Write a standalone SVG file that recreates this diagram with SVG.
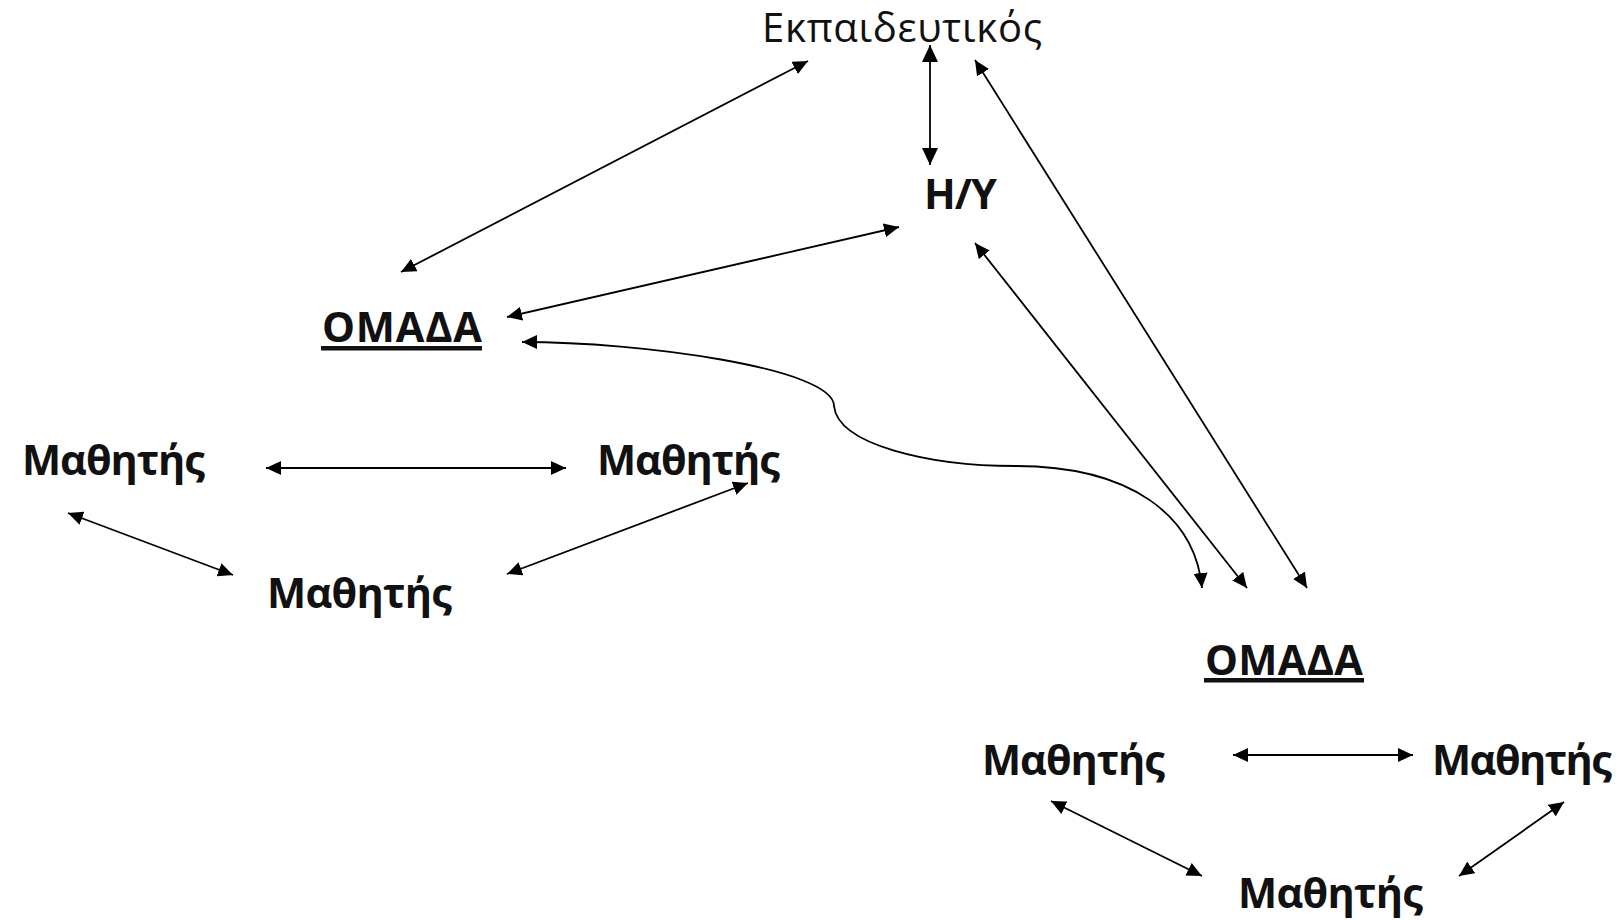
<svg xmlns="http://www.w3.org/2000/svg" width="1620" height="920" viewBox="0 0 1620 920">
  <defs>
    <marker id="ah" markerUnits="userSpaceOnUse" markerWidth="15" markerHeight="14" viewBox="0 0 15 14" refX="15" refY="7" orient="auto-start-reverse">
      <path d="M0,0 L15,7 L0,14 z" fill="#000"/>
    </marker>
    <marker id="ahL" markerUnits="userSpaceOnUse" markerWidth="17" markerHeight="16" viewBox="0 0 17 16" refX="17" refY="8" orient="auto-start-reverse">
      <path d="M0,0 L17,8 L0,16 z" fill="#000"/>
    </marker>
    <style>
      .lbl { font-family: "Open Sans", "Noto Sans", "DejaVu Sans", sans-serif; fill: #111; }
      .b { font-weight: 700; font-size: 41.5px; }
      .r { font-weight: 400; font-size: 40px; }
      .ul { fill: #111; }
      .cn { fill: none; stroke: #000; stroke-width: 1.8; marker-start: url(#ah); marker-end: url(#ah); }
      .cn.big { marker-start: url(#ahL); marker-end: url(#ahL); }
    </style>
  </defs>
  <rect width="1620" height="920" fill="#fff"/>

  <!-- nodes -->
  <g id="teacher"><text class="lbl r" x="762" y="42" textLength="280">Εκπαιδευτικός</text></g>
  <g id="computer"><text class="lbl b" x="924" y="209" textLength="73">H/Y</text></g>
  <g id="group-1">
    <text class="lbl b" x="322" y="342" textLength="160">ΟΜΑΔΑ</text>
    <rect class="ul" x="321" y="346" width="161" height="4.5"/>
  </g>
  <g id="group-2">
    <text class="lbl b" x="1205" y="675" textLength="158">ΟΜΑΔΑ</text>
    <rect class="ul" x="1204" y="678" width="160" height="4.5"/>
  </g>
  <g id="student-1a"><text class="lbl b" x="22" y="475" textLength="183">Μαθητής</text></g>
  <g id="student-1b"><text class="lbl b" x="597" y="475" textLength="183">Μαθητής</text></g>
  <g id="student-1c"><text class="lbl b" x="267" y="608" textLength="185">Μαθητής</text></g>
  <g id="student-2a"><text class="lbl b" x="982" y="775" textLength="183">Μαθητής</text></g>
  <g id="student-2b"><text class="lbl b" x="1432" y="775" textLength="180">Μαθητής</text></g>
  <g id="student-2c"><text class="lbl b" x="1238" y="908" textLength="185">Μαθητής</text></g>

  <!-- connectors (all two-way) -->
  <g id="connectors">
    <line class="cn" x1="401" y1="272" x2="808" y2="61"/>
    <line class="cn big" x1="930" y1="45" x2="930" y2="165"/>
    <line class="cn" x1="975" y1="60" x2="1307" y2="588"/>
    <line class="cn" x1="507" y1="317" x2="899" y2="227"/>
    <line class="cn" x1="975" y1="243" x2="1247" y2="588"/>
    <path class="cn" d="M522,342 C640,342 834,368 834,406 C838,445 930,466 1015,466 C1130,466 1195,515 1202,588"/>
    <line class="cn" x1="266" y1="468" x2="566" y2="468"/>
    <line class="cn" x1="68" y1="513" x2="233" y2="575"/>
    <line class="cn" x1="507" y1="574" x2="748" y2="483"/>
    <line class="cn" x1="1233" y1="755" x2="1413" y2="755"/>
    <line class="cn" x1="1051" y1="801" x2="1202" y2="876"/>
    <line class="cn" x1="1459" y1="876" x2="1564" y2="802"/>
  </g>
</svg>
